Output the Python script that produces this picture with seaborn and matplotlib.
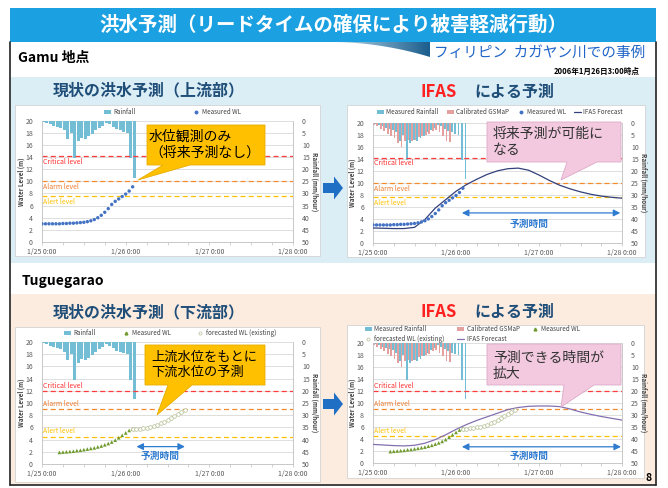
import numpy as np
import pandas as pd
import matplotlib
matplotlib.use("Agg")
import matplotlib.pyplot as plt
import seaborn as sns
from matplotlib.patches import Rectangle, Polygon, FancyArrow, Patch
from matplotlib.lines import Line2D

sns.set_style("white")
plt.rcParams["font.family"] = ["Noto Sans CJK JP", "DejaVu Sans"]

W, H = 668, 488

# ---------------- data ----------------
x_tick_hours = [0, 24, 48, 72]
x_tick_labels = ["1/25 0:00", "1/26 0:00", "1/27 0:00", "1/28 0:00"]
x_minor_hours = list(range(0, 73, 6))
wl_ticks = list(range(0, 21, 2))
rain_ticks = list(range(0, 51, 5))

rain_hours = list(range(0, 27))
rain_measured = [0.5, 1, 1.5, 2, 2.5, 3, 4, 7.5, 5, 15.5, 8.5, 7, 7.5, 6.5,
                 5.5, 4, 3, 2, 1, 1.5, 2.5, 3.5, 4, 4.5, 5, 15.5, 23.5]
gsmap_hours = list(range(0, 23))
gsmap_rain = [1, 1.5, 2.5, 3.5, 4.5, 5.5, 6.5, 8.5, 10, 7.5, 7, 7.5, 7, 6,
              5.5, 5, 4.5, 3.5, 3, 4, 5.5, 7.5, 8]

gamu_wl_hours = list(range(0, 27))
gamu_wl = [3.0, 3.0, 3.0, 3.0, 3.0, 3.0, 3.05, 3.05, 3.1, 3.1, 3.15, 3.2, 3.25,
           3.35, 3.5, 3.7, 4.0, 4.4, 4.9, 5.5, 6.2, 6.7, 7.1, 7.5, 7.9, 8.4, 9.1]
gamu_ifas_hours = list(range(0, 73, 3))
gamu_ifas = [2.5, 2.45, 2.4, 2.4, 2.6, 3.9, 5.8, 7.2, 8.6, 9.7, 10.6, 11.4, 12.0,
             12.35, 12.45, 12.1, 11.3, 10.4, 9.6, 9.0, 8.5, 8.1, 7.8, 7.6, 7.45]
gamu_levels = {"Critical level": 14.2, "Alarm level": 10.0, "Alert level": 7.6}

tug_wl_hours = list(range(5, 27))
tug_wl = [1.9, 1.95, 2.0, 2.05, 2.1, 2.2, 2.25, 2.35, 2.45, 2.55, 2.65, 2.8,
          2.95, 3.15, 3.35, 3.6, 3.9, 4.3, 4.7, 5.1, 5.5, 5.75]
tug_fc_hours = list(range(26, 42))
tug_fc = [5.7, 5.75, 5.8, 5.85, 5.95, 6.05, 6.2, 6.4, 6.65, 6.9, 7.2, 7.5,
          7.85, 8.2, 8.5, 8.8]
tug_ifas_hours = list(range(0, 73, 3))
tug_ifas = [3.1, 3.0, 2.9, 2.85, 2.95, 3.3, 3.9, 4.7, 5.6, 6.4, 7.1, 7.7, 8.3,
            8.9, 9.25, 9.45, 9.5, 9.5, 9.4, 9.0, 8.5, 8.1, 7.75, 7.45, 7.15]
tug_levels = {"Critical level": 12.0, "Alarm level": 9.0, "Alert level": 4.5}

# ---------------- style ----------------
C_RAIN = "#74bed5"
C_GSMAP = "#e49f9f"
C_WL_G = "#4472c4"
C_WL_T = "#6f9a2e"
C_FC = "#b3bd92"
C_IFAS_G = "#34407a"
C_IFAS_T = "#8470b0"
C_ARROW = "#2f7bd0"
LEVEL_LINE = {"Critical level": "#ff3b3b", "Alarm level": "#f58a2c", "Alert level": "#ffc000"}
LEVEL_TEXT = {"Critical level": "#ff3030", "Alarm level": "#ed7d31", "Alert level": "#ffc000"}
TICK_C = "#595959"


def rect(x0, y0, x1, y1):
    return [x0 / W, 1 - y1 / H, (x1 - x0) / W, (y1 - y0) / H]


fig = plt.figure(figsize=(W / 100, H / 100), dpi=100)
fig.patch.set_facecolor("white")

bg = fig.add_axes([0, 0, 1, 1], zorder=-5)
bg.set_xlim(0, W)
bg.set_ylim(H, 0)
bg.axis("off")

# title bar
bg.add_patch(Rectangle((10, 8), 646, 34, fc="#1ba1e2", ec="none"))
bg.text(333, 25, "洪水予測（リードタイムの確保により被害軽減行動）", color="white",
        fontsize=14, fontweight="bold", ha="center", va="center")
# swoosh under title bar
xs = np.linspace(330, 430, 40)
ys = 42 + 15 * ((xs - 330) / 100) ** 2
sw = Polygon(np.column_stack([np.r_[xs, 430, 330], np.r_[ys, 42, 42]]),
             fc="none", ec="none")
bg.add_patch(sw)
grad = np.linspace(0, 1, 200).reshape(1, -1)
im = bg.imshow(grad, extent=(330, 430, 58, 42), cmap=matplotlib.colors.LinearSegmentedColormap.from_list(
    "sw", ["#bfe0f0", "#1b5d8c"]), aspect="auto", zorder=1)
im.set_clip_path(sw)
bg.set_xlim(0, W)
bg.set_ylim(H, 0)

bg.text(18, 58, "Gamu 地点", fontsize=10, fontweight="bold", color="black", va="center")
bg.text(645, 53, "フィリピン  カガヤン川での事例", fontsize=10.5, color="#1f64c8",
        ha="right", va="center")
bg.text(640, 71, "2006年1月26日3:00時点", fontsize=5.5, fontweight="bold",
        color="black", ha="right", va="center")

# panels
bg.add_patch(Rectangle((11, 77), 645, 186, fc="#dceef5", ec="none"))
bg.add_patch(Rectangle((11, 294), 645, 190, fc="#fcece0", ec="none"))
bg.text(22, 281, "Tuguegarao", fontsize=10, fontweight="bold", color="black", va="center")

# frame
bg.plot([10, 10], [42, 485], color="#222222", lw=1.2)
bg.plot([656, 656], [42, 485], color="#222222", lw=1.2)
bg.plot([10, 656], [485, 485], color="#222222", lw=1.2)

# section titles
TITLE_C = "#1f4e79"
bg.text(53, 90, "現状の洪水予測（上流部）", fontsize=11.5, fontweight="bold", color=TITLE_C, va="center")
bg.text(53, 312, "現状の洪水予測（下流部）", fontsize=11.5, fontweight="bold", color=TITLE_C, va="center")
for yy in (92, 312):
    bg.text(421, yy, "IFAS", fontsize=12, fontweight="bold", color="#ff2020", va="center")
    bg.text(474, yy, "による予測", fontsize=11.5, fontweight="bold", color=TITLE_C, va="center")
bg.text(649, 478, "8", fontsize=7.5, fontweight="bold", color="black", ha="center", va="center")


def make_chart(box, plot, levels, below):
    bg.add_patch(Rectangle((box[0], box[1]), box[2] - box[0], box[3] - box[1],
                           fc="white", ec="#d3d3d3", lw=0.6))
    ax = fig.add_axes(rect(*plot))
    ax2 = ax.twinx()
    ax.set_zorder(3)
    ax2.set_zorder(2)
    ax.patch.set_visible(False)
    ax2.patch.set_visible(False)
    ax.set_xlim(0, 72)
    ax.set_ylim(0, 20)
    ax2.set_ylim(50, 0)
    ax.set_xticks(x_tick_hours, x_tick_labels)
    ax.set_xticks(x_minor_hours, minor=True)
    ax.set_yticks(wl_ticks)
    ax2.set_yticks(rain_ticks)
    ax.tick_params(axis="x", which="both", bottom=True, direction="out", length=2,
                   width=0.5, color="#bfbfbf", labelsize=5, labelcolor=TICK_C, pad=2)
    ax.tick_params(axis="y", left=False, labelsize=5, labelcolor=TICK_C, pad=3)
    ax2.tick_params(axis="y", right=False, labelsize=5, labelcolor=TICK_C, pad=3)
    ax2.tick_params(axis="x", bottom=False, labelbottom=False)
    for s in ["top", "right"]:
        ax.spines[s].set_visible(False)
    for s in ["left", "bottom"]:
        ax.spines[s].set_color("#bfbfbf")
        ax.spines[s].set_linewidth(0.6)
    for s in ["top", "left", "bottom"]:
        ax2.spines[s].set_visible(False)
    ax2.spines["right"].set_color("#bfbfbf")
    ax2.spines["right"].set_linewidth(0.6)
    ax2.set_axisbelow(True)
    ax2.yaxis.grid(True, color="#d9d9d9", lw=0.6)
    ax.text(-0.082, 0.5, "Water Level (m)", transform=ax.transAxes, rotation=90,
            fontsize=4.5, fontweight="bold", color="#404040", ha="center", va="center")
    ax.text(1.088, 0.5, "Rainfall (mm/hour)", transform=ax.transAxes, rotation=270,
            fontsize=4.5, fontweight="bold", color="#404040", ha="center", va="center")
    for name, val in levels.items():
        ax.axhline(val, color=LEVEL_LINE[name], lw=0.9, ls=(0, (4, 2.6)), zorder=2)
        if below:
            ax.text(0.4, val - 0.3, name, color=LEVEL_TEXT[name], fontsize=5, va="top", ha="left")
        else:
            ax.text(0.4, val + 0.2, name, color=LEVEL_TEXT[name], fontsize=5, va="bottom", ha="left")
    return ax, ax2


def forecast_arrow(ax, x0, x1, y, tx, ty):
    ax.annotate("", xy=(x1, y), xytext=(x0, y),
                arrowprops=dict(arrowstyle="<|-|>,head_length=0.4,head_width=0.2",
                                color=C_ARROW, lw=0.9, shrinkA=0, shrinkB=0))
    ax.text(tx, ty, "予測時間", color=C_ARROW, fontsize=7, fontweight="bold",
            ha="center", va="center")


h_rain = Patch(fc=C_RAIN, ec="none")
h_gsmap = Patch(fc=C_GSMAP, ec="none")
h_wl_g = Line2D([], [], ls="none", marker="o", color=C_WL_G, markersize=1.8)
h_wl_t = Line2D([], [], ls="none", marker="^", color=C_WL_T, markersize=2)
h_fc = Line2D([], [], ls="none", marker="o", mfc="white", mec=C_FC, mew=0.5, markersize=2.2)
h_ifas_g = Line2D([], [], color=C_IFAS_G, lw=0.9)
h_ifas_t = Line2D([], [], color=C_IFAS_T, lw=0.9)
LEG = dict(frameon=False, prop={"size": 4.5}, handlelength=1.1, handleheight=0.7,
           handletextpad=0.4, borderpad=0, labelcolor="#404040")
BAR = dict(align="edge", linewidth=0, antialiased=False)

# ---------- chart 1 : Gamu current ----------
ax, ax2 = make_chart((15, 105, 320, 256), (42, 120.7, 293, 242), gamu_levels, True)
ax2.bar(rain_hours, rain_measured, width=0.85, color=C_RAIN, **BAR)
sns.scatterplot(x=gamu_wl_hours, y=gamu_wl, ax=ax, color=C_WL_G, s=6,
                edgecolor="none", legend=False, zorder=5)
ax.legend([h_rain, h_wl_g], ["Rainfall", "Measured WL"], loc="center",
          bbox_to_anchor=(0.52, 1.072), ncol=2, columnspacing=9, **LEG)

# ---------- chart 2 : Gamu IFAS ----------
ax, ax2 = make_chart((347, 105, 645, 257), (373, 122.7, 622, 243), gamu_levels, True)
ax2.bar(np.array(gsmap_hours), gsmap_rain, width=0.5, color=C_GSMAP, **BAR)
ax2.bar(np.array(rain_hours) + 0.5, rain_measured, width=0.5, color=C_RAIN, **BAR)
sns.lineplot(x=gamu_ifas_hours, y=gamu_ifas, ax=ax, color=C_IFAS_G, lw=0.9,
             legend=False, zorder=4)
sns.scatterplot(x=gamu_wl_hours, y=gamu_wl, ax=ax, color=C_WL_G, s=6,
                edgecolor="none", legend=False, zorder=5)
forecast_arrow(ax, 25.7, 71.5, 5.0, 45, 3.2)
ax.legend([h_rain, h_gsmap, h_wl_g, h_ifas_g],
          ["Measured Rainfall", "Calibrated GSMaP", "Measured WL", "IFAS Forecast"],
          loc="center", bbox_to_anchor=(0.51, 1.088), ncol=4, columnspacing=1.3, **LEG)

# ---------- chart 3 : Tuguegarao current ----------
ax, ax2 = make_chart((15, 327, 320, 482), (42, 342, 293, 464), tug_levels, False)
ax2.bar(rain_hours, rain_measured, width=0.85, color=C_RAIN, **BAR)
sns.scatterplot(x=tug_wl_hours, y=tug_wl, ax=ax, color=C_WL_T, marker="^", s=7,
                edgecolor="none", legend=False, zorder=5)
sns.scatterplot(x=tug_fc_hours, y=tug_fc, ax=ax, marker="o", s=7, facecolor="white",
                edgecolor=C_FC, linewidth=0.5, legend=False, zorder=5)
forecast_arrow(ax, 27.1, 41.0, 2.85, 34, 1.3)
ax.legend([h_rain, h_wl_t, h_fc], ["Rainfall", "Measured WL", "forecasted WL (existing)"],
          loc="center", bbox_to_anchor=(0.512, 1.074), ncol=3, columnspacing=4.2, **LEG)

# ---------- chart 4 : Tuguegarao IFAS ----------
ax, ax2 = make_chart((347, 325, 644, 478), (373, 343, 622, 463), tug_levels, False)
ax2.bar(np.array(gsmap_hours), gsmap_rain, width=0.5, color=C_GSMAP, **BAR)
ax2.bar(np.array(rain_hours) + 0.5, rain_measured, width=0.5, color=C_RAIN, **BAR)
sns.lineplot(x=tug_ifas_hours, y=tug_ifas, ax=ax, color=C_IFAS_T, lw=0.9,
             legend=False, zorder=4)
sns.scatterplot(x=tug_wl_hours, y=tug_wl, ax=ax, color=C_WL_T, marker="^", s=7,
                edgecolor="none", legend=False, zorder=5)
sns.scatterplot(x=tug_fc_hours, y=tug_fc, ax=ax, marker="o", s=7, facecolor="white",
                edgecolor=C_FC, linewidth=0.5, legend=False, zorder=5)
forecast_arrow(ax, 25.7, 71.7, 2.7, 45, 1.2)
ax.legend([h_rain, h_fc, h_gsmap, h_ifas_t, h_wl_t],
          ["Measured Rainfall", "forecasted WL (existing)", "Calibrated GSMaP",
           "IFAS Forecast", "Measured WL"],
          loc="center left", bbox_to_anchor=(-0.045, 1.075), ncol=3,
          columnspacing=2.0, labelspacing=0.25, **LEG)

# ---------------- overlay : callouts & arrows ----------------
ov = fig.add_axes([0, 0, 1, 1], zorder=10)
ov.set_xlim(0, W)
ov.set_ylim(H, 0)
ov.axis("off")


def callout(x0, y0, x1, y1, b0, b1, tip, fc, ec, lines, tx, ty, tc, fs):
    pts = [(x0, y0), (x1, y0), (x1, y1), (b1, y1), tip, (b0, y1), (x0, y1)]
    ov.add_patch(Polygon(pts, closed=True, fc=fc, ec=ec, lw=0.6))
    ov.text(tx, ty, lines, color=tc, fontsize=fs, ha="left", va="center", linespacing=1.2)


callout(147, 125, 265, 165, 163, 190, (138, 180), "#ffc000", "#e6ad00",
        "水位観測のみ\n（将来予測なし）", 149, 145, "black", 10)
callout(487, 122, 621, 162, 567, 597, (561, 180), "#f2c9df", "#dcaac8",
        "将来予測が可能に\nなる", 493, 142, "#333333", 10)
callout(145, 345, 265, 385, 168, 192, (157, 415), "#ffc000", "#e6ad00",
        "上流水位をもとに\n下流水位の予測", 151, 365, "black", 9.5)
callout(487, 344, 621, 385, 564, 594, (561, 407), "#f2c9df", "#dcaac8",
        "予測できる時間が\n拡大", 493, 366, "#333333", 10)

for yc in (188, 404):
    ov.add_patch(FancyArrow(323, yc, 20, 0, width=10, head_width=23, head_length=9,
                            length_includes_head=True, fc="#1f6fc5", ec="none"))

fig.savefig("out.png", dpi=100)
